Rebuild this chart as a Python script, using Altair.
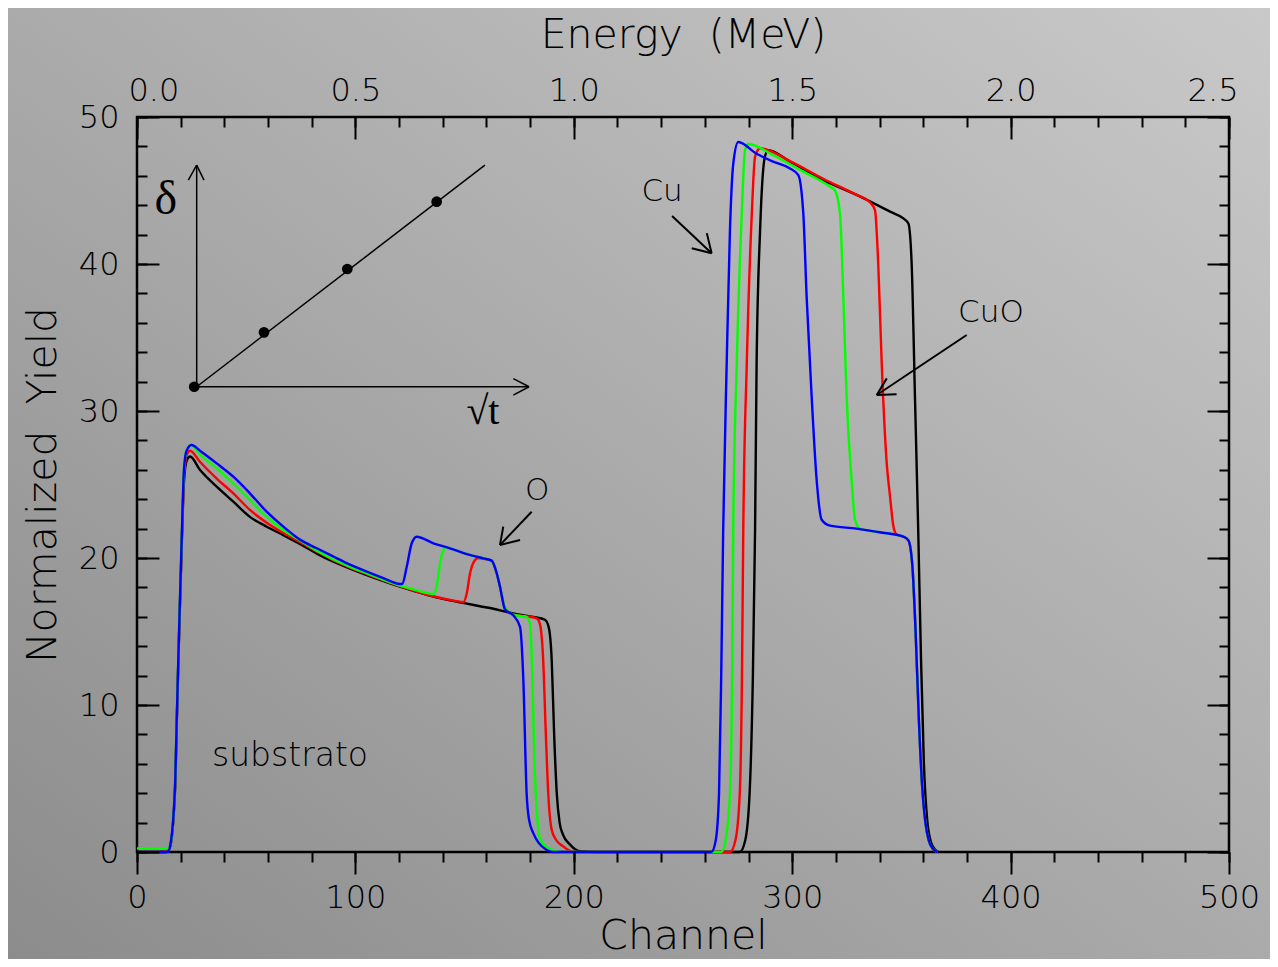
import altair as alt
import pandas as pd

W, H = 1092, 735
SANS = "DejaVu Sans"
SERIF = "Liberation Serif"

# ---------------- spectra (channel, normalized yield) ----------------
black_ch = [0, 13, 15, 17.4, 18.2, 19.4, 20.5, 21.5, 22.7, 24.3, 28.8, 36.5, 44.1, 51.7, 59.4, 67, 74.6,
            82.3, 89.9, 97.5, 105.2, 112.8, 120.4, 128, 135.7, 143.3, 151, 157, 163.2, 170, 177, 183,
            186.8, 188.5, 189.9, 191, 192.2, 193.5, 195, 198.3, 201, 203, 210, 276, 278.5, 280.5, 282,
            283, 283.7, 285.3, 287.5, 289, 299, 314.2, 329.5, 344.8, 350.9, 353.2, 354.7, 356.2, 357.7,
            359, 360.3, 361.8, 363.5, 365.5, 367]
black_y = [0, 0, 0.3, 4.2, 8.8, 15.5, 21.0, 25.2, 26.6, 26.9, 26.0, 24.85, 23.83, 22.8, 22.13, 21.56, 20.95,
           20.3, 19.75, 19.28, 18.84, 18.43, 18.05, 17.7, 17.37, 17.12, 16.9, 16.72, 16.55, 16.3, 16.1, 15.95,
           15.8, 15.3, 13.0, 8.0, 4.0, 2.0, 1.2, 0.5, 0.15, 0.05, 0, 0, 0.8, 4.0, 12.0,
           21.9, 33.2, 42.3, 47.3, 47.75, 46.96, 45.7, 44.7, 43.56, 43.1, 42.76, 40.0, 31.0, 21.9,
           13.0, 6.0, 2.2, 0.7, 0.15, 0]

red_ch = [0, 13, 15, 17.4, 18.2, 19.4, 20.5, 21.5, 22.7, 24.3, 28.8, 36.5, 44.1, 51.7, 59.4, 67, 74.6,
          82.3, 89.9, 97.5, 105.2, 112.8, 120.4, 128, 135.7, 143.3, 149.4, 151, 152.5, 154.8, 156.3,
          158.6, 162.4, 164.7, 166.2, 168.5, 172.3, 177, 183, 184.5, 186, 187.2, 188.3, 189.9, 192, 195,
          198, 200, 271.5, 274, 276, 277, 277.6, 279.2, 281.5, 283, 285.3, 299, 314.2, 329.5, 335.6,
          337.9, 339.4, 341, 343.3, 344.8, 346.3, 347.8, 350.9, 353.2, 355, 356.5, 358, 359.5, 361,
          362.5, 364.5, 366.5]
red_y = [0, 0, 0.3, 4.3, 8.9, 15.6, 21.2, 25.6, 27.0, 27.3, 26.55, 25.4, 24.4, 23.27, 22.4, 21.7, 21.1,
         20.45, 19.85, 19.35, 18.9, 18.47, 18.08, 17.72, 17.4, 17.15, 17.0, 17.6, 18.96, 19.86, 20.0,
         19.95, 19.82, 18.96, 18.05, 16.6, 16.15, 16.05, 15.9, 15.5, 13.0, 8.0, 4.0, 1.5, 0.8, 0.4,
         0.1, 0, 0, 0.8, 4.0, 12.0, 21.9, 33.2, 43.4, 47.3, 47.87, 47.0, 45.8, 44.7, 44.2,
         43.67, 40.0, 33.2, 26.4, 24.2, 22.2, 21.6, 21.45, 21.2, 19.5, 15.0, 9.0, 4.5, 2.0,
         0.8, 0.2, 0]

green_ch = [0, 14, 15.1, 17.4, 18.2, 19.4, 20.5, 21.5, 22.7, 24.6, 28.8, 36.5, 44.1, 51.7, 59.4, 67, 74.6,
            82.3, 89.9, 97.5, 105.2, 112.8, 120.4, 128, 135.7, 137.2, 138.7, 140.2, 141.5, 143.3, 151,
            158.6, 162.4, 164.7, 166.2, 168.5, 172.3, 176, 178.4, 180, 181, 182, 183.2, 184.5, 187, 191,
            194, 267.5, 269.5, 271.5, 272.5, 273, 274.6, 276.9, 278.4, 279.9, 291.3, 303.6, 317.3,
            319.6, 321.9, 323.4, 324.9, 327.2, 328.8, 331, 340, 350.9, 353.2, 355, 356.5, 358, 359.5,
            361, 362.5, 364.5, 366.5]
green_y = [0.25, 0.25, 0.4, 4.4, 9.0, 15.8, 21.4, 25.9, 27.3, 27.7, 27.05, 26.1, 25.08, 23.95, 22.8, 21.9, 21.2,
           20.5, 19.9, 19.4, 18.95, 18.52, 18.12, 17.8, 17.55, 18.05, 19.6, 20.5, 20.75, 20.66, 20.27,
           19.97, 19.82, 18.96, 18.05, 16.6, 16.15, 16.05, 16.0, 15.5, 12.0, 6.0, 2.5, 0.9, 0.4, 0.1,
           0, 0, 0.8, 4.0, 12.0, 21.9, 33.2, 43.4, 47.75, 48.16, 47.4, 46.4, 45.26,
           45.0, 43.4, 37.8, 31.0, 25.3, 22.6, 22.0, 21.75, 21.45, 21.2, 19.5, 15.0, 9.0, 4.5,
           2.0, 0.8, 0.2, 0]

blue_ch = [0, 14, 15.1, 17.4, 18.2, 19.4, 20.5, 21.5, 22.7, 25.0, 28.8, 36.5, 44.1, 51.7, 59.4, 67, 74.6,
           82.3, 89.9, 97.5, 105.2, 112.8, 120.4, 121.5, 123.5, 125.8, 128.1, 135.7, 143.3, 151, 158.6,
           162.4, 164.7, 166.2, 168.5, 172.3, 175.4, 176.9, 178.4, 179.5, 181.5, 184, 187.6, 190, 263,
           265, 266.5, 267.5, 268.4, 270, 271.5, 273, 275.3, 283.7, 291.3, 299, 302.8, 305.1, 306.6,
           308.9, 311.2, 313.5, 317.3, 329.5, 340, 350.9, 353.2, 355, 356.5, 358, 359.5, 361, 362.5,
           364.5, 366.5]
blue_y = [0, 0, 0.36, 4.44, 9.0, 15.8, 21.45, 26.0, 27.3, 27.69, 27.3, 26.44, 25.53, 24.4, 23.15, 22.13, 21.25,
          20.66, 20.1, 19.55, 19.07, 18.63, 18.23, 18.25, 19.4, 21.0, 21.45, 21.0, 20.66, 20.27, 19.97,
          19.82, 18.96, 18.05, 16.5, 16.1, 15.3, 11.7, 4.0, 2.2, 1.27, 0.6, 0.14, 0, 0,
          0.8, 4.0, 12.0, 21.9, 33.2, 42.3, 46.8, 48.3, 47.5, 46.96, 46.5, 46.05, 43.4, 37.8,
          31.0, 25.3, 22.6, 22.2, 22.0, 21.75, 21.45, 21.2, 19.5, 15.0, 9.0, 4.5, 2.0, 0.8,
          0.2, 0]

series_names = ["black", "red", "green", "blue"]
series_colors = ["#000000", "#ff0000", "#00ff00", "#0000ff"]

# ---------------- inset (delta vs sqrt t), in plot units ----------------
inset_pts_ch = [26.2, 58.15, 96.3, 137.2]
inset_pts_y = [31.65, 35.35, 39.66, 44.24]
inset_fit_ch = [27.33, 159.3]
inset_fit_y = [31.65, 46.73]

# line segments: inset axes with arrowheads, annotation arrows
seg_x = [27.33, 23.49, 30.68, 27.33, 172.3, 172.3,
         245.0, 260.9, 254.0,
         180.7, 167.7, 175.4,
         379.9, 343.3, 347.8]
seg_y = [31.65, 45.71, 45.71, 31.65, 32.2, 31.08,
         43.27, 42.1, 41.07,
         23.15, 22.13, 21.22,
         35.17, 32.22, 31.14]
seg_x2 = [27.33, 27.33, 27.33, 179.5, 179.5, 179.5,
          263.1, 263.1, 263.1,
          166.2, 166.2, 166.2,
          338.7, 338.7, 338.7]
seg_y2 = [46.73, 46.73, 46.73, 31.65, 31.65, 31.65,
          40.73, 40.73, 40.73,
          20.88, 20.88, 20.88,
          31.09, 31.09, 31.09]
seg_w = [1.5] * 6 + [2] * 9

label_text = ["Cu", "O", "CuO", "substrato"]
label_ch = [240.4, 183.2, 391.0, 70.05]
label_y = [44.9, 24.56, 36.7, 6.53]
label_size = [31, 31, 31, 33]

serif_text = ["δ", "√t"]
serif_ch = [13.14, 158.4]
serif_y = [44.35, 29.95]
serif_size = [48, 40]

# ---------------- tables ----------------
rows = []
for name, chs, ys in [("black", black_ch, black_y), ("red", red_ch, red_y),
                      ("green", green_ch, green_y), ("blue", blue_ch, blue_y)]:
    for i, (c, v) in enumerate(zip(chs, ys)):
        rows.append({"series": name, "ch": c, "y": v, "i": i})
lines_df = pd.DataFrame(rows)
pts_df = pd.DataFrame({"ch": inset_pts_ch, "y": inset_pts_y})
fit_df = pd.DataFrame({"ch": inset_fit_ch, "y": inset_fit_y})
seg_df = pd.DataFrame({"x": seg_x, "y": seg_y, "x2": seg_x2, "y2": seg_y2, "w": seg_w})
lab_df = pd.DataFrame({"t": label_text, "ch": label_ch, "y": label_y, "s": label_size})
ser_df = pd.DataFrame({"t": serif_text, "ch": serif_ch, "y": serif_y, "s": serif_size})
one_df = pd.DataFrame({"a": [0]})

xscale = alt.Scale(domain=[0, 500], nice=False, zero=False)
yscale = alt.Scale(domain=[0, 50], nice=False, zero=False)

common = dict(grid=False, tickColor="black", domainColor="black", labelColor="black",
              titleColor="black", tickWidth=2, domainWidth=2.5, labelFont=SANS, titleFont=SANS,
              labelFontSize=32, titleFontSize=41, titleFontWeight=200, labelFontWeight=200,
              zindex=1, labelOverlap=False)

ax_bottom_major = alt.Axis(orient="bottom", values=list(range(0, 501, 100)), tickSize=22,
                           labelPadding=8, labelFlush=False, title="Channel", titlePadding=3,
                           domain=False, **common)
ax_bottom_minor = alt.Axis(orient="bottom", values=list(range(0, 501, 20)), tickSize=10,
                           labels=False, domain=False, title=None, **common)
ax_top_major = alt.Axis(orient="top", values=list(range(0, 501, 100)), tickSize=22, offset=-22,
                        labelPadding=10, labelFlush=True, labelFlushOffset=9,
                        labelExpr="format(datum.value / 200, '.1f')",
                        title="Energy\u00a0 (MeV)", titlePadding=18, domain=False, **common)
ax_top_minor = alt.Axis(orient="top", values=list(range(0, 501, 20)), tickSize=10, offset=-10,
                        labels=False, domain=False, title=None, **common)
ax_left_major = alt.Axis(orient="left", values=list(range(0, 51, 10)), tickSize=22, offset=-22,
                         labelPadding=18, title="Normalized\u00a0 Yield", titlePadding=14,
                         domain=False, **common)
ax_left_minor = alt.Axis(orient="left", values=list(range(0, 51, 2)), tickSize=10, offset=-10,
                         labels=False, domain=False, title=None, **common)
ax_right_major = alt.Axis(orient="right", values=list(range(0, 51, 10)), tickSize=22, offset=-22,
                          labels=False, domain=False, title=None, **common)
ax_right_minor = alt.Axis(orient="right", values=list(range(0, 51, 2)), tickSize=10, offset=-10,
                          labels=False, domain=False, title=None, **common)

gradient = alt.LinearGradient(
    gradient="linear", x1=0, y1=1, x2=1, y2=0,
    stops=[alt.GradientStop(color="#8c8c8c", offset=0),
           alt.GradientStop(color="#c9c9c9", offset=1)])

bg = alt.Chart(one_df).mark_rect(fill=gradient).encode(
    x=alt.value(-129), x2=alt.value(W + 41), y=alt.value(-109), y2=alt.value(H + 107))

frame = alt.Chart(one_df).mark_rect(filled=False, stroke="black", strokeWidth=2.5).encode(
    x=alt.value(0), x2=alt.value(W), y=alt.value(0), y2=alt.value(H))

lines = alt.Chart(lines_df).mark_line(strokeWidth=2.4, interpolate="monotone").encode(
    x=alt.X("ch:Q", scale=xscale, axis=ax_bottom_major),
    y=alt.Y("y:Q", scale=yscale, axis=ax_left_major),
    color=alt.Color("series:N", scale=alt.Scale(domain=series_names, range=series_colors),
                    legend=None),
    order=alt.Order("i:Q"))

fit = alt.Chart(fit_df).mark_line(strokeWidth=1.5, color="black").encode(
    x=alt.X("ch:Q", scale=xscale, axis=ax_bottom_minor),
    y=alt.Y("y:Q", scale=yscale, axis=ax_left_minor))

pts = alt.Chart(pts_df).mark_point(filled=True, size=115, color="black", opacity=1).encode(
    x=alt.X("ch:Q", scale=xscale, axis=ax_top_major),
    y=alt.Y("y:Q", scale=yscale, axis=ax_right_major))

segs = alt.Chart(seg_df).mark_rule(color="black").encode(
    x=alt.X("x:Q", scale=xscale, axis=ax_top_minor),
    y=alt.Y("y:Q", scale=yscale, axis=ax_right_minor),
    x2="x2:Q", y2="y2:Q",
    strokeWidth=alt.StrokeWidth("w:Q", scale=None))

labels = alt.Chart(lab_df).mark_text(font=SANS, fontWeight=200, color="black",
                                     align="center", baseline="middle").encode(
    x=alt.X("ch:Q", scale=xscale, axis=None),
    y=alt.Y("y:Q", scale=yscale, axis=None),
    size=alt.Size("s:Q", scale=None),
    text="t:N")

serif = alt.Chart(ser_df).mark_text(font=SERIF, color="black",
                                    align="center", baseline="middle").encode(
    x=alt.X("ch:Q", scale=xscale, axis=None),
    y=alt.Y("y:Q", scale=yscale, axis=None),
    size=alt.Size("s:Q", scale=None),
    text="t:N")

chart = alt.layer(bg, frame, lines, fit, pts, segs, labels, serif).properties(
    width=W, height=H,
    autosize=alt.AutoSizeParams(type="none"),
    padding={"left": 129, "top": 109, "right": 41, "bottom": 107},
    background="#a9a9a9",
).resolve_axis(x="independent", y="independent").configure_view(strokeWidth=0)

chart.save("out.html", embed_options={"renderer": "svg", "actions": False})
